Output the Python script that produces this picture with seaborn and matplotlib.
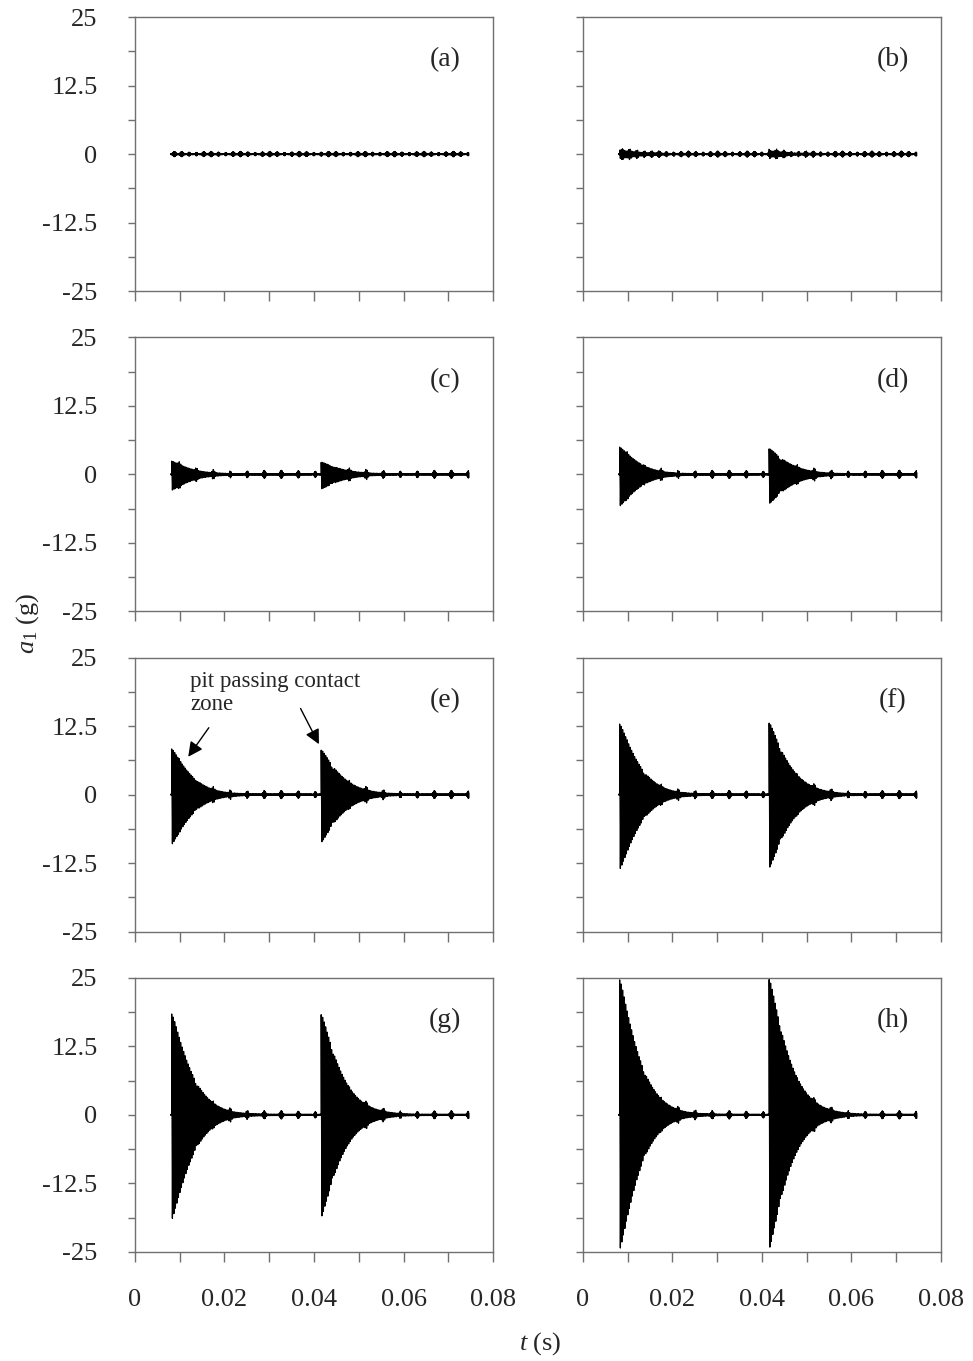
import numpy as np
import pandas as pd
import matplotlib
matplotlib.use("Agg")
import matplotlib.pyplot as plt
import seaborn as sns
from matplotlib.ticker import MultipleLocator, FixedLocator

# ---- data -------------------------------------------------------------
panel_labels = ["(a)", "(b)", "(c)", "(d)", "(e)", "(f)", "(g)", "(h)"]
burst_times = [0.0082, 0.0416]           # s, pit entering the contact zone
# peak amplitude (g) of each burst, upper / lower envelope
peak_up = [[0.0, 0.0], [0.8, 0.5], [2.5, 2.2], [5.1, 4.7],
           [8.5, 8.2], [13.1, 13.2], [18.7, 18.5], [25.0, 25.0]]
peak_down = [[0.0, 0.0], [0.9, 0.5], [3.0, 2.6], [5.9, 5.3],
             [9.2, 8.7], [13.8, 13.4], [19.3, 18.7], [24.8, 24.5]]
# gear-mesh ripple on the healthy part of the record
ripple_amp = [0.40, 0.45, 0.65, 0.65, 0.65, 0.65, 0.65, 0.65]
ripple_period = [0.00164, 0.00164, 0.0038, 0.0038, 0.0038, 0.0038, 0.0038, 0.0038]
t_start, t_end = 0.0080, 0.0746
ring_freq = 3000.0      # Hz, ringing frequency after a pit impact
decay_tau = 0.0050      # s
decay_pow = 1.2

y_ticks = [-25, -12.5, 0, 12.5, 25]
y_ticklabels = ["-25", "-12.5", "0", "12.5", "25"]
x_ticks = [0, 0.02, 0.04, 0.06, 0.08]
x_ticklabels = ["0", "0.02", "0.04", "0.06", "0.08"]

# ---- signals ------------------------------------------------------------
t = np.arange(t_start, t_end, 1e-5)


def response(i):
    y = 0.10 * np.sin(2 * np.pi * 9000 * t)
    # short symmetric blip at every mesh
    for tk in np.arange(t_start + ripple_period[i] / 2, t_end, ripple_period[i]):
        w = np.exp(-((t - tk) / 0.00035) ** 2)
        y += ripple_amp[i] * w * np.sin(2 * np.pi * 9000 * (t - tk) + np.pi / 2)
    # ringing after the pit passes the contact zone
    for k, t0 in enumerate(burst_times):
        m = t >= t0
        dt = t[m] - t0
        env = np.exp(-(dt / decay_tau) ** decay_pow)
        s = env * np.sin(2 * np.pi * ring_freq * dt + np.pi / 2 * 0.98)
        y[m] += np.where(s > 0, s * peak_up[i][k], s * peak_down[i][k])
    return y


frames = [pd.DataFrame({"t": t, "a": response(i)}) for i in range(8)]

# ---- figure -------------------------------------------------------------
sns.set_theme(style="white")
plt.rcParams["font.family"] = ["Liberation Serif", "DejaVu Serif"]
plt.rcParams["mathtext.fontset"] = "custom"
plt.rcParams["mathtext.rm"] = "Liberation Serif"
plt.rcParams["mathtext.it"] = "Liberation Serif:italic"
plt.rcParams["axes.unicode_minus"] = False

fig, axes = plt.subplots(4, 2, figsize=(9.73, 13.61), dpi=100)
fig.subplots_adjust(left=0.1387, right=0.9671, top=0.9875, bottom=0.0801,
                    wspace=0.251, hspace=0.168)

fs = 19
frame_col = "#707070"
for i, ax in enumerate(axes.flat):
    sns.lineplot(data=frames[i], x="t", y="a", ax=ax, color="black",
                 lw=0.9, estimator=None, sort=False, legend=False)
    ax.set_xlim(0, 0.08)
    ax.set_ylim(-25, 25)
    ax.set_xlabel("")
    ax.set_ylabel("")
    for sp in ax.spines.values():
        sp.set_color(frame_col)
        sp.set_linewidth(1.0)
    ax.yaxis.set_major_locator(FixedLocator(y_ticks))
    ax.yaxis.set_minor_locator(MultipleLocator(6.25))
    ax.xaxis.set_major_locator(FixedLocator(x_ticks))
    ax.xaxis.set_minor_locator(MultipleLocator(0.01))
    ax.tick_params(axis="y", which="both", direction="out", length=5, width=1.0,
                   color=frame_col, left=True, pad=22, labelsize=fs)
    ax.tick_params(axis="x", which="both", direction="out", length=7, width=1.0,
                   color=frame_col, bottom=True, pad=20, labelsize=fs)
    if i % 2 == 0:
        ax.set_yticklabels(y_ticklabels)
    else:
        ax.set_yticklabels([])
    if i >= 6:
        ax.set_xticklabels(x_ticklabels)
    else:
        ax.set_xticklabels([])
    ax.text(0.866, 0.843, panel_labels[i], transform=ax.transAxes,
            ha="center", va="center", fontsize=20)

# annotation in panel (e)
ax_e = axes[2, 0]
ax_e.text(0.0123, 22.6, "pit passing contact\nzone", ha="left", va="top",
          fontsize=16.5, linespacing=1.15)
arrow = dict(arrowstyle="-|>", mutation_scale=22, lw=1.0, color="black",
             shrinkA=0, shrinkB=0)
ax_e.annotate("", xy=(0.0119, 6.9), xytext=(0.0165, 12.2), arrowprops=arrow)
ax_e.annotate("", xy=(0.0411, 9.2), xytext=(0.0370, 15.7), arrowprops=arrow)

fig.text(0.028, 0.542, r"$a_1$ (g)", rotation=90, ha="center", va="center",
         fontsize=fs)
fig.text(0.555, 0.013, r"$t$ (s)", ha="center", va="center", fontsize=fs)

fig.savefig("out.png", dpi=100)
